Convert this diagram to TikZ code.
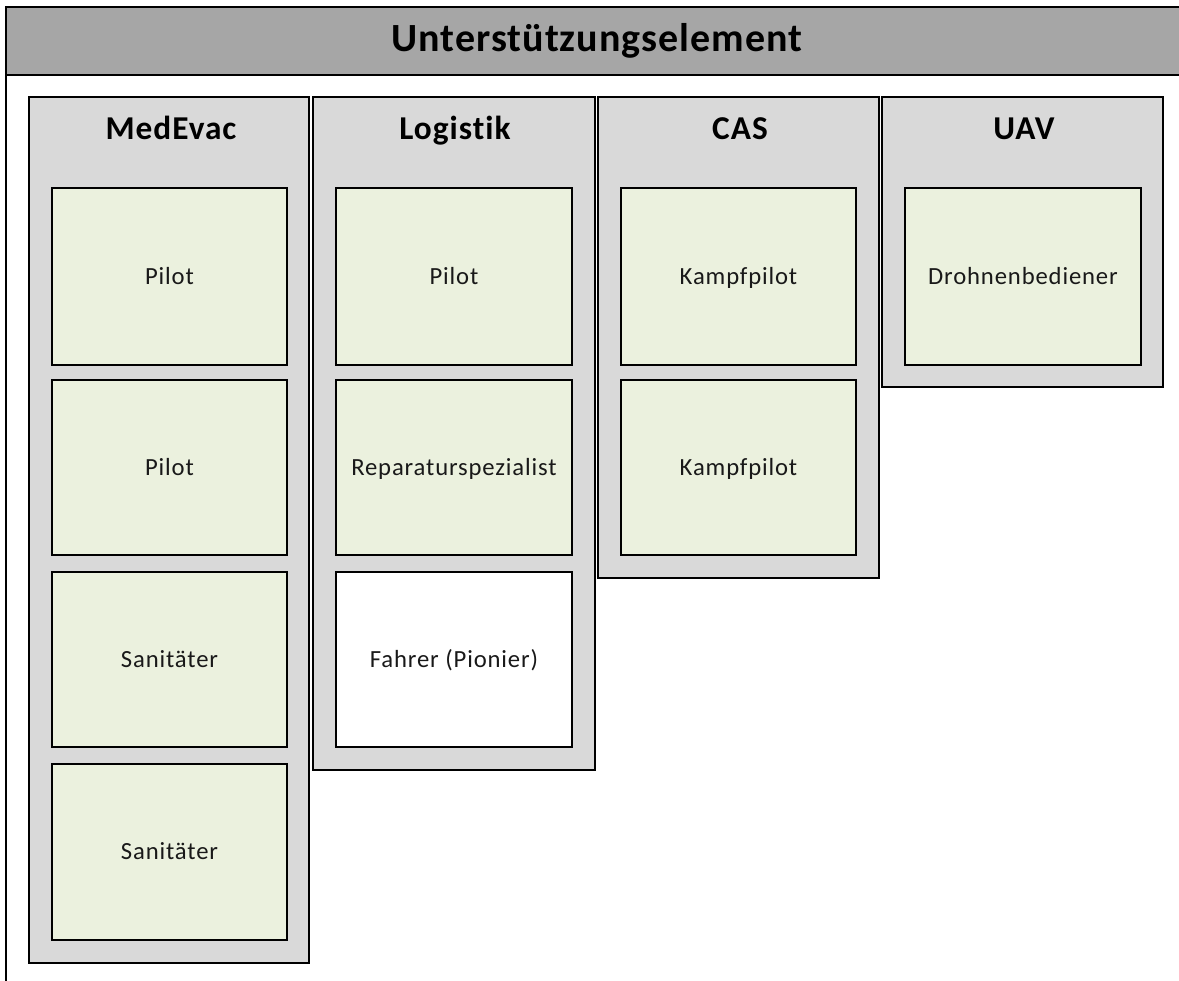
\documentclass[tikz,border=0pt]{standalone}
\usepackage{fontspec}
\setmainfont{Carlito}[Ligatures=NoCommon]
\newfontfamily\rolefont{Carlito}[Ligatures=NoCommon, LetterSpace=3.5]
\newfontfamily\hdrfont{Carlito}[Ligatures=NoCommon, LetterSpace=2.5]
\newfontfamily\colfont{Carlito}[Ligatures=NoCommon, LetterSpace=3]
\definecolor{hdrgray}{HTML}{A6A6A6}
\definecolor{colgray}{HTML}{D9D9D9}
\definecolor{rolegreen}{HTML}{EBF1DE}
\newcommand{\mybox}[7]{%
  \node[#6, minimum width={(#4-#2)*0.75pt}, minimum height={(#5-#3)*0.75pt}]
    (#1) at ({(#2+#4)/2},{(#3+#5)/2}) {#7};}
\tikzset{
  x=0.75pt, y=-0.75pt,
  frame/.style={draw=black, line width=1.1pt, inner sep=0pt, outer sep=0pt, rectangle},
  hdr/.style={frame, fill=hdrgray},
  body/.style={frame, fill=white},
  col/.style={frame, fill=colgray},
  hdrtitle/.style={font=\hdrfont\fontsize{30}{36}\selectfont\bfseries, inner sep=0pt, anchor=base},
  coltitle/.style={font=\colfont\fontsize{25}{30}\selectfont\bfseries, inner sep=0pt, anchor=base},
  role/.style={frame, fill=rolegreen, font=\rolefont\fontsize{18.5}{22}\selectfont, text=black!90,
    text height=11.25pt, text depth=0pt},
  rolew/.style={role, fill=white},
}
\begin{document}
\begin{tikzpicture}
\useasboundingbox (0,0) rectangle (1179,981);
\clip (0,0) rectangle (1179,981);
% outer frame
\mybox{bodyframe}{6}{75}{1190}{995}{body}{}
\mybox{header}{6}{7}{1190}{75}{hdr}{}
\node[hdrtitle] (htitle) at (597,52) {Unterstützungselement};
% columns
\mybox{medevac}{29}{97}{309}{963}{col}{}
\mybox{logistik}{313}{97}{595}{770}{col}{}
\mybox{cas}{598}{97}{879}{578}{col}{}
\mybox{uav}{882}{97}{1163}{387}{col}{}
\node[coltitle] (tmed) at (171,140) {MedEvac};
\node[coltitle] (tlog) at (455,140) {Logistik};
\node[coltitle] (tcas) at (740,140) {CAS};
\node[coltitle] (tuav) at (1024,140) {UAV};
% MedEvac roles
\mybox{m1}{52}{188}{287}{365}{role}{Pilot}
\mybox{m2}{52}{380}{287}{555}{role}{Pilot}
\mybox{m3}{52}{572}{287}{747}{role}{Sanitäter}
\mybox{m4}{52}{764}{287}{940}{role}{Sanitäter}
% Logistik roles
\mybox{l1}{336}{188}{572}{365}{role}{Pilot}
\mybox{l2}{336}{380}{572}{555}{role}{Reparaturspezialist}
\mybox{l3}{336}{572}{572}{747}{rolew}{Fahrer (Pionier)}
% CAS roles
\mybox{c1}{621}{188}{856}{365}{role}{Kampfpilot}
\mybox{c2}{621}{380}{856}{555}{role}{Kampfpilot}
% UAV roles
\mybox{u1}{905}{188}{1141}{365}{role}{Drohnenbediener}
\end{tikzpicture}
\end{document}
